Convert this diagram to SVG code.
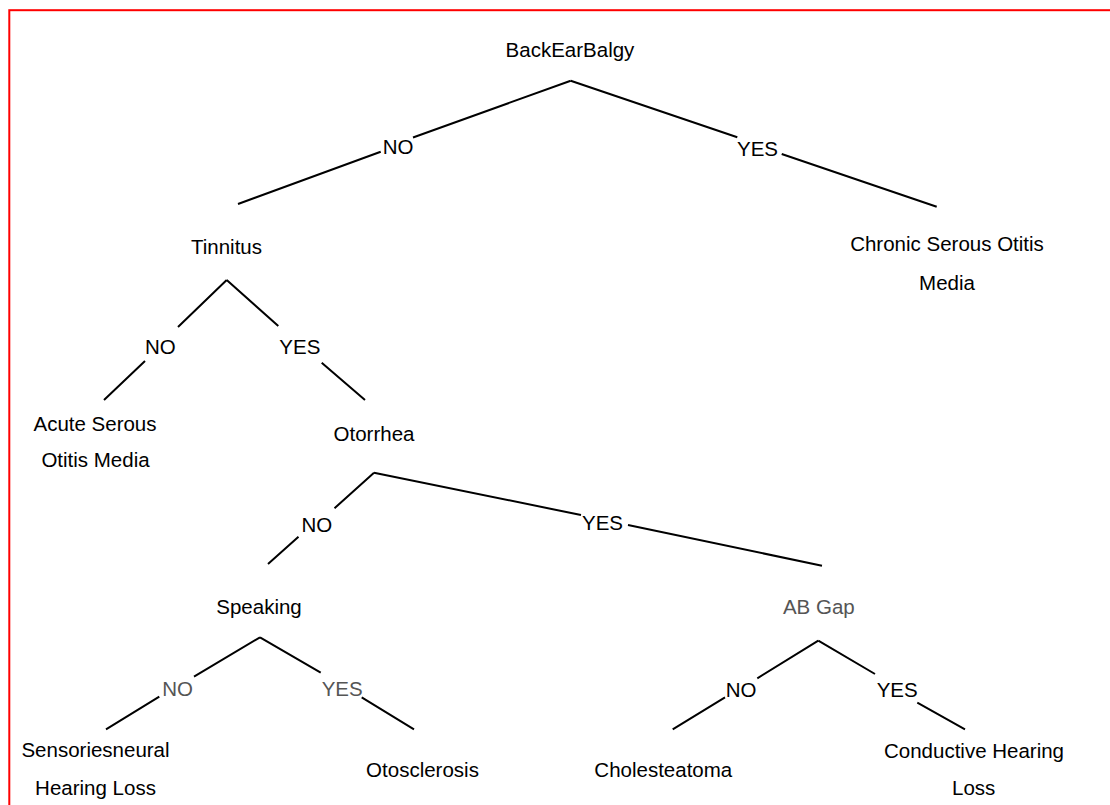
<svg xmlns="http://www.w3.org/2000/svg" width="1110" height="805" viewBox="0 0 1110 805">
<style>
text{font-family:"Liberation Sans",Arial,sans-serif;font-size:20.5px;fill:#000;text-anchor:middle}
.lbl{text-anchor:start}
.gray{fill:#555}
.edge{stroke:#000;stroke-width:2;fill:none}
</style>
<rect x="0" y="0" width="1110" height="805" fill="#fff"/>
<rect x="9.3" y="10.2" width="1200" height="1000" fill="none" stroke="#f00" stroke-width="2"/>
<g id="connectors">
<path class="edge" d="M570.7,80.7 L413,137.5 M380.7,151.7 L238,204"/>
<path class="edge" d="M570.7,80.7 L737.3,137.3 M781.7,154 L936.7,206.7"/>
<path class="edge" d="M226.7,280 L178,327 M145,361 L104,400"/>
<path class="edge" d="M226.7,280 L278.3,326 M321.7,362.7 L365,400"/>
<path class="edge" d="M374,472.7 L334.5,508.3 M298.5,536.7 L268,564"/>
<path class="edge" d="M374,472.7 L581,515 M628,525 L822,565.7"/>
<path class="edge" d="M260,637.3 L194,676.7 M159.3,696.7 L106,729.3"/>
<path class="edge" d="M260,637.3 L320.7,672.7 M361.7,697.3 L414,729.3"/>
<path class="edge" d="M818.3,640.7 L757.3,678.3 M725,697.3 L672.7,729.3"/>
<path class="edge" d="M818.3,640.7 L875,674 M917.3,702.7 L965,729.3"/>
<text class="lbl" x="382.7" y="154">NO</text>
<text class="lbl" x="737" y="156">YES</text>
<text class="lbl" x="145" y="354.3">NO</text>
<text class="lbl" x="279.3" y="354.3">YES</text>
<text class="lbl" x="301.5" y="531.7">NO</text>
<text class="lbl" x="582" y="530">YES</text>
<text class="lbl gray" x="162.3" y="696">NO</text>
<text class="lbl gray" x="321.7" y="696">YES</text>
<text class="lbl" x="725.7" y="697.3">NO</text>
<text class="lbl" x="876.7" y="697.3">YES</text>
</g>
<g id="n-root"><text x="570" y="57.3">BackEarBalgy</text></g>
<g id="n-tinnitus"><text x="226.5" y="254">Tinnitus</text></g>
<g id="n-chronic"><text x="947" y="250.7">Chronic Serous Otitis</text><text x="947" y="290">Media</text></g>
<g id="n-acute"><text x="95" y="430.7">Acute Serous</text><text x="95.5" y="467.3">Otitis Media</text></g>
<g id="n-otorrhea"><text x="374" y="440.7">Otorrhea</text></g>
<g id="n-speaking"><text x="259" y="613.5">Speaking</text></g>
<g id="n-abgap"><text class="gray" x="818.8" y="614">AB Gap</text></g>
<g id="n-sensori"><text x="95.5" y="757.3">Sensoriesneural</text><text x="95.5" y="795">Hearing Loss</text></g>
<g id="n-otoscl"><text x="422.5" y="776.7">Otosclerosis</text></g>
<g id="n-chole"><text x="663.3" y="777.3">Cholesteatoma</text></g>
<g id="n-conductive"><text x="974" y="758.3">Conductive Hearing</text><text x="973.7" y="795">Loss</text></g>
</svg>
